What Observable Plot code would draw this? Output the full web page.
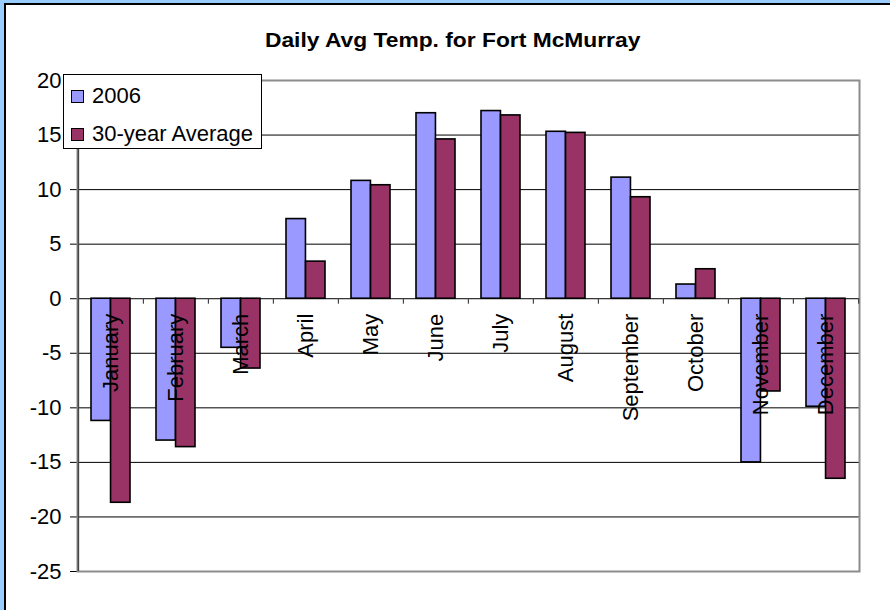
<!DOCTYPE html>
<html>
<head>
<meta charset="utf-8">
<script src="https://cdn.jsdelivr.net/npm/d3@7"></script>
<script src="https://cdn.jsdelivr.net/npm/@observablehq/plot@0.6"></script>
<style>
  html, body { margin: 0; padding: 0; }
  body { width: 890px; height: 610px; overflow: hidden; background: #99ccff; position: relative;
         font-family: "Liberation Sans", Arial, Helvetica, sans-serif; }
  #panel { position: absolute; left: 4px; top: 3px; width: 886px; height: 605px; background: #fff;
           border-left: 2px solid #000; border-top: 2px solid #000; }
  #title { position: absolute; left: 0; top: 30px; width: 905px; text-align: center;
           font-weight: bold; font-size: 20px; line-height: 20px; color: #000; }
  #title span { display: inline-block; transform: scaleX(1.14); transform-origin: center; }
  #chart { position: absolute; left: 0; top: 60px; }
  #legend { position: absolute; left: 63px; top: 74px; width: 199px; height: 75px; background: #fff;
            border: 1px solid #000; box-sizing: border-box; }
  .item { position: absolute; left: 0; height: 22px; font-size: 22px; line-height: 22px; white-space: nowrap; }
  .sw { position: absolute; left: 7px; width: 13px; height: 13px; border: 1.5px solid #000; box-sizing: border-box; }
  .lbl { position: absolute; left: 28px; top: 0; }
</style>
</head>
<body>
<div id="panel"></div>
<div id="title"><span>Daily Avg Temp. for Fort McMurray</span></div>
<div id="chart"></div>
<div id="legend"></div>
<script>
// ---- data ----
const months = ["January", "February", "March", "April", "May", "June",
                "July", "August", "September", "October", "November", "December"];
const temp2006 = [-11.2, -13.0, -4.5, 7.3, 10.8, 17.0, 17.2, 15.3, 11.1, 1.3, -15.0, -9.9];
const temp30yr = [-18.7, -13.6, -6.4, 3.4, 10.4, 14.6, 16.8, 15.2, 9.3, 2.7, -8.5, -16.5];
const yTicks = [-25, -20, -15, -10, -5, 0, 5, 10, 15, 20];
const seriesNames = ["2006", "30-year Average"];
const seriesColors = ["#9999ff", "#993366"];

// ---- layout ----
const W = 890, H = 545, mL = 77, mR = 31, mT = 20, mB = 34;
const padInner = 0.4;
const step = (W - mL - mR) / months.length;
const half = step * (1 - padInner) / 2;

const rows2006 = months.map((m, i) => ({month: m, value: temp2006[i]}));
const rows30 = months.map((m, i) => ({month: m, value: temp30yr[i]}));
const gridVals = yTicks.filter(v => v !== yTicks[0] && v !== yTicks[yTicks.length - 1]);

const chart = Plot.plot({
  width: W, height: H,
  marginLeft: mL, marginRight: mR, marginTop: mT, marginBottom: mB,
  style: {fontFamily: '"Liberation Sans", Arial, Helvetica, sans-serif', fontSize: "22px",
          color: "#000", background: "transparent", overflow: "visible"},
  x: {domain: months, paddingInner: padInner, paddingOuter: padInner / 2, axis: null},
  y: {domain: [yTicks[0], yTicks[yTicks.length - 1]], ticks: yTicks, tickSize: 7, tickPadding: 9,
      tickFormat: d => String(d), label: null},
  marks: [
    Plot.ruleY(gridVals, {stroke: "#000", strokeWidth: 1}),
    Plot.frame({stroke: "#8c8c8c", strokeWidth: 2}),
    Plot.barY(rows2006, {x: "month", y: "value", fill: seriesColors[0], stroke: "#000", strokeWidth: 1.6, insetRight: half}),
    Plot.barY(rows30, {x: "month", y: "value", fill: seriesColors[1], stroke: "#000", strokeWidth: 1.6, insetLeft: half}),
    Plot.ruleX([months[0]], {x: d => d, y1: () => yTicks[0], y2: () => yTicks[yTicks.length - 1], dx: -step / 2, stroke: "#444", strokeWidth: 1.5}),
    Plot.ruleX(months.slice(1), {x: d => d, y1: () => 0, y2: () => -0.5, dx: -step / 2, stroke: "#444", strokeWidth: 1.2}),
    Plot.ruleX([months[months.length - 1]], {x: d => d, y1: () => 0, y2: () => -0.5, dx: step / 2, stroke: "#444", strokeWidth: 1.2}),
    Plot.text(months, {x: d => d, y: () => 0, text: d => d, rotate: -90, textAnchor: "end",
                        dy: 15, fontSize: 22, fill: "#000"})
  ]
});
document.getElementById("chart").appendChild(chart);

// ---- legend ----
const legend = document.getElementById("legend");
seriesNames.forEach((name, i) => {
  const item = document.createElement("div");
  item.className = "item";
  item.style.top = (i === 0 ? 10 : 48) + "px";
  const sw = document.createElement("div");
  sw.className = "sw";
  sw.style.background = seriesColors[i];
  sw.style.top = "5px";
  const lbl = document.createElement("span");
  lbl.className = "lbl";
  lbl.textContent = name;
  item.appendChild(sw);
  item.appendChild(lbl);
  legend.appendChild(item);
});
</script>
</body>
</html>
